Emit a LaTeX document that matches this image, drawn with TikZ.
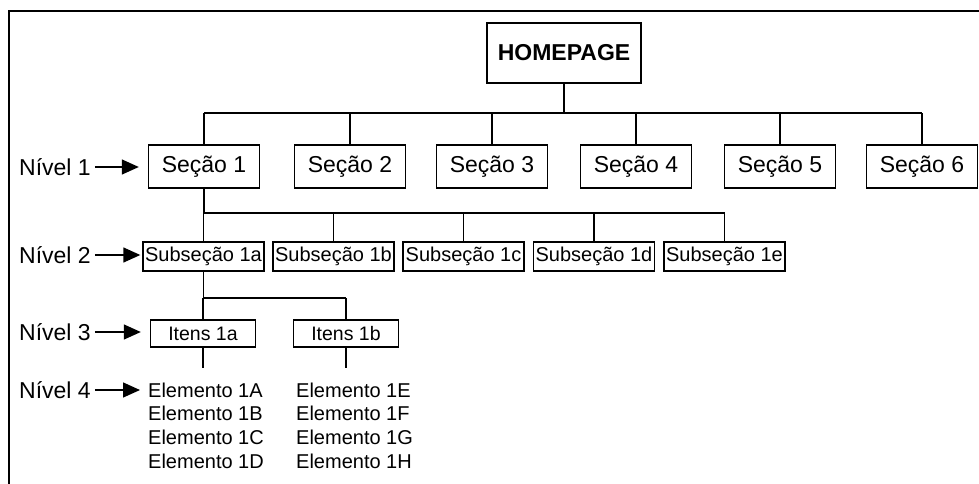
\documentclass[tikz,border=0pt]{standalone}
\usepackage{fontspec}
\setmainfont{Liberation Sans}
\usetikzlibrary{arrows.meta}
\begin{document}
\begin{tikzpicture}[x=1pt,y=-1pt,
  ln/.style={line width=1.4pt,black},
  secbox/.style={draw,line width=1.4pt,inner sep=0pt,minimum width=111pt,minimum height=43pt,font=\fontsize{23}{27}\selectfont},
  homebox/.style={draw,line width=1.4pt,inner sep=0pt,minimum width=154pt,minimum height=60pt,font=\fontsize{23}{27}\selectfont\bfseries},
  subbox/.style={draw,line width=1.4pt,inner sep=0pt,minimum width=121pt,minimum height=29pt,font=\fontsize{20}{24}\selectfont},
  itembox/.style={draw,line width=1.4pt,inner sep=0pt,minimum width=105pt,minimum height=27pt,font=\fontsize{19.5}{23}\selectfont},
  lvl/.style={anchor=west,inner sep=0pt,font=\fontsize{23}{27}\selectfont},
  elem/.style={anchor=west,inner sep=0pt,font=\fontsize{20}{24}\selectfont},
  lvlarrow/.style={line width=1.4pt,-{Triangle[length=17pt,width=15pt]}}
]
\useasboundingbox (0,0) rectangle (979,484);
% frame
\draw[line width=1.6pt] (9,484) -- (9,11) -- (979,11);

% homepage
\node[homebox] (home) at (564,53) {HOMEPAGE};

% level 1
\node[secbox] (s1) at (204,166.5) {Seção 1};
\node[secbox] (s2) at (350,166.5) {Seção 2};
\node[secbox] (s3) at (492,166.5) {Seção 3};
\node[secbox] (s4) at (636,166.5) {Seção 4};
\node[secbox] (s5) at (780,166.5) {Seção 5};
\node[secbox] (s6) at (922,166.5) {Seção 6};
\coordinate (b1) at (564,113);
\draw[ln] (home.south) -- (b1);
\draw[ln] (s1.north |- b1) -- (s6.north |- b1);
\foreach \s in {s1,s2,s3,s4,s5,s6} \draw[ln] (\s.north) -- (\s.north |- b1);

% level 2
\node[subbox] (a) at (203.5,256.5) {Subseção 1a};
\node[subbox] (b) at (333.5,256.5) {Subseção 1b};
\node[subbox] (c) at (463.5,256.5) {Subseção 1c};
\node[subbox] (d) at (594,256.5) {Subseção 1d};
\node[subbox] (e) at (724.5,256.5) {Subseção 1e};
\coordinate (b2) at (204,213);
\draw[ln] (s1.south) -- (s1.south |- b2);
\draw[ln] (a.north |- b2) -- (e.north |- b2);
\foreach \s in {a,b,c,d,e} \draw[ln] (\s.north) -- (\s.north |- b2);

% level 3
\node[itembox] (i1) at (203,333.5) {Itens 1a};
\node[itembox] (i2) at (346,333.5) {Itens 1b};
\coordinate (b3) at (203,298);
\draw[ln] (a.south) -- (a.south |- b3);
\draw[ln] (a.south |- b3) -- (i2.north |- b3);
\draw[ln] (i1.north) -- (i1.north |- b3);
\draw[ln] (i2.north) -- (i2.north |- b3);

% level 4
\coordinate (c1) at (203,368);
\coordinate (c2) at (346,368);
\draw[ln] (i1.south) -- (c1);
\draw[ln] (i2.south) -- (c2);
\node[elem] (e1A) at (148,390) {Elemento 1A};
\node[elem] (e1B) at (148,413.5) {Elemento 1B};
\node[elem] (e1C) at (148,437) {Elemento 1C};
\node[elem] (e1D) at (148,461) {Elemento 1D};
\node[elem] (e1E) at (296,390) {Elemento 1E};
\node[elem] (e1F) at (296,413.5) {Elemento 1F};
\node[elem] (e1G) at (296,437) {Elemento 1G};
\node[elem] (e1H) at (296,461) {Elemento 1H};

% level labels
\node[lvl] (n1) at (19,167) {Nível 1};
\node[lvl] (n2) at (19,255) {Nível 2};
\node[lvl] (n3) at (19,332) {Nível 3};
\node[lvl] (n4) at (19,390) {Nível 4};
\draw[lvlarrow,shorten <=4pt,shorten >=9pt] (n1.east) -- (n1.east -| s1.west);
\draw[lvlarrow,shorten <=4pt,shorten >=2pt] (n2.east) -- (n2.east -| a.west);
\draw[lvlarrow,shorten <=4pt,shorten >=9pt] (n3.east) -- (n3.east -| i1.west);
\draw[lvlarrow,shorten <=4pt,shorten >=8pt] (n4.east) -- (e1A.west);
\end{tikzpicture}
\end{document}
